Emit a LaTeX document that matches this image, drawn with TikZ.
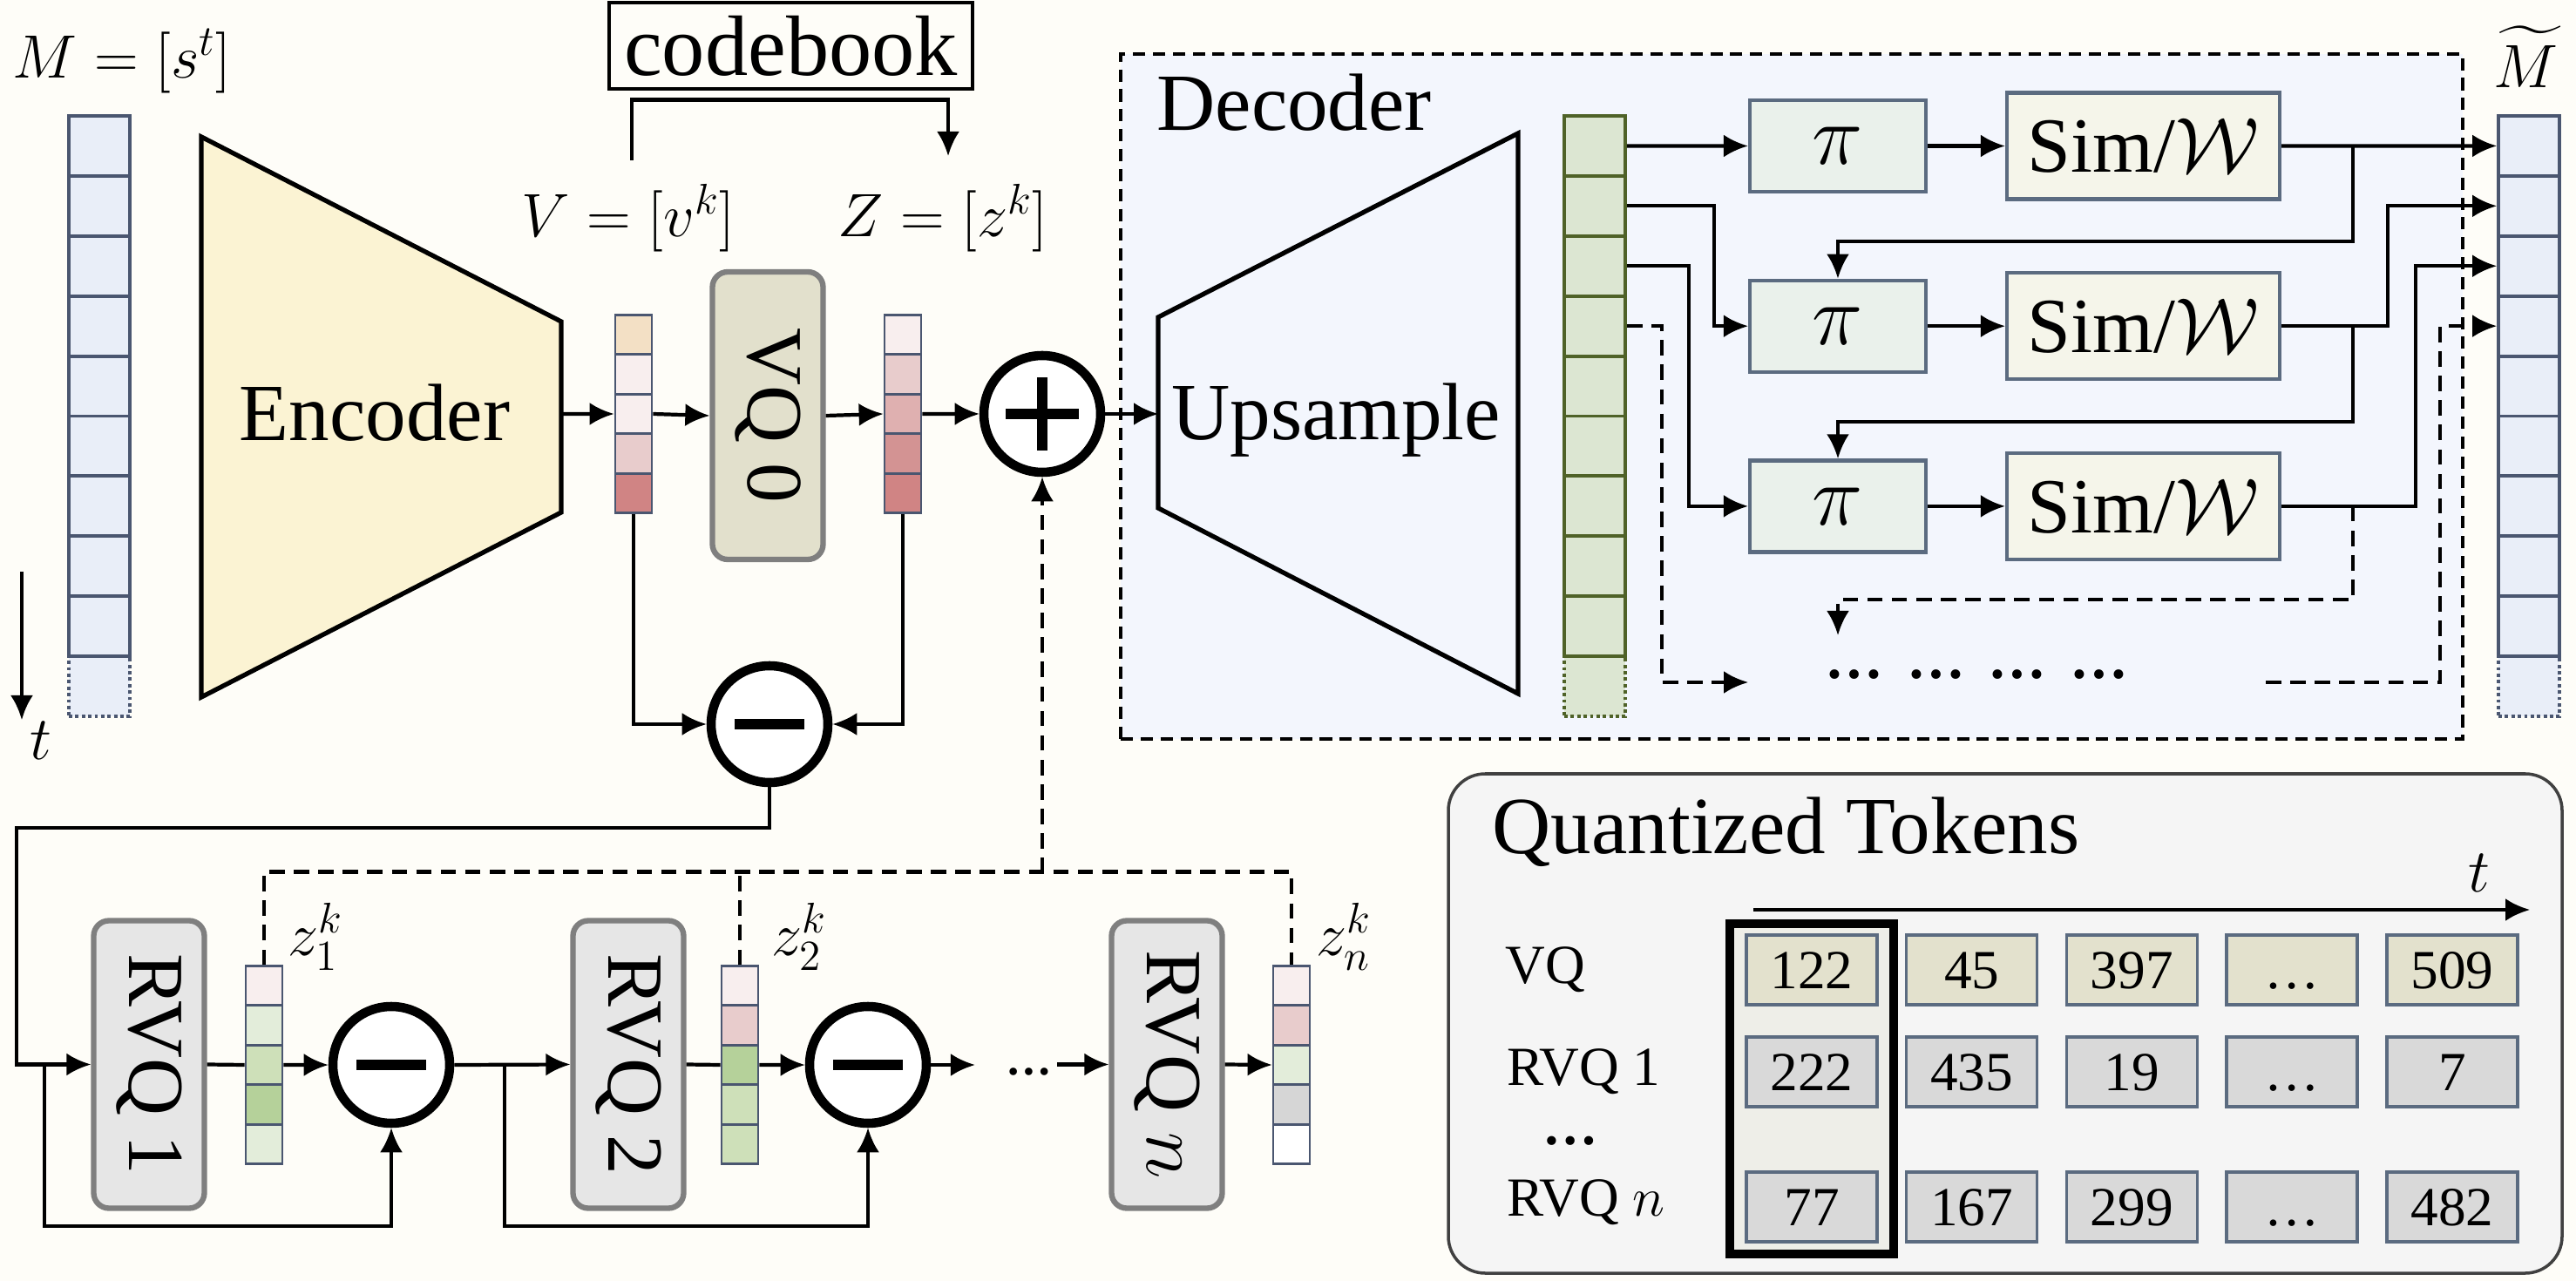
\RequirePackage{fix-cm}
\documentclass[tikz,border=0pt]{standalone}
\usepackage{amsmath,amssymb}
\usepackage{fontspec}
\setmainfont{Liberation Serif}
\usepackage{xcolor}
\usepackage{tikz}
\usetikzlibrary{arrows.meta,positioning,calc}

\definecolor{bgcol}{HTML}{FEFDF8}
\definecolor{seqfill}{HTML}{E9EEF8}
\definecolor{seqline}{HTML}{4A5670}
\definecolor{upfill}{HTML}{DCE6D2}
\definecolor{upline}{HTML}{4F6228}
\definecolor{encfill}{HTML}{FBF3D3}
\definecolor{decfill}{HTML}{F3F6FD}
\definecolor{vqfill}{HTML}{E2E0CC}
\definecolor{rvqfill}{HTML}{E6E6E6}
\definecolor{boxline}{HTML}{7F7F7F}
\definecolor{pifill}{HTML}{EAF1EB}
\definecolor{simfill}{HTML}{F5F5EA}
\definecolor{cellline}{HTML}{5B6B80}
\definecolor{panelfill}{HTML}{F5F5F5}
\definecolor{colfill}{HTML}{EEEEE8}
\definecolor{tokvq}{HTML}{E3E1CD}
\definecolor{tokrvq}{HTML}{D9D9D9}
% vector entries
\definecolor{peach}{HTML}{F3E0C5}
\definecolor{rosea}{HTML}{F8EEEE}
\definecolor{roseb}{HTML}{E8CCCC}
\definecolor{rosec}{HTML}{DFB0B0}
\definecolor{rosed}{HTML}{D39393}
\definecolor{rosee}{HTML}{D08484}
\definecolor{greena}{HTML}{E3EDDA}
\definecolor{greenb}{HTML}{CEE0B9}
\definecolor{greenc}{HTML}{B5D19A}
\definecolor{greyc}{HTML}{D6D6D6}

\tikzset{
  conn/.style={line width=1.2pt},
  arr/.style={conn, -{Latex[length=2.8mm,width=2.6mm]}},
  dconn/.style={conn, dash pattern=on 5pt off 3pt},
  darr/.style={arr, dash pattern=on 5pt off 3pt},
  seqcell/.style={draw=seqline, line width=1.1pt, fill=seqfill, minimum width=0.70cm, minimum height=0.689cm, inner sep=0pt},
  ghost/.style={densely dotted},
  vcell/.style={draw=seqline, line width=0.8pt, minimum width=0.42cm, minimum height=0.454cm, inner sep=0pt},
  quant/.style={draw=boxline, line width=1.8pt, rounded corners=5pt, minimum width=1.27cm, minimum height=3.30cm, inner sep=0pt, font=\fontsize{26}{30}\selectfont},
  op/.style={circle, draw, line width=3pt, fill=white, minimum size=1.34cm, inner sep=0pt},
  opminus/.style={op, path picture={\draw[line width=3.4pt] ([xshift=-0.40cm]path picture bounding box.center) -- ([xshift=0.40cm]path picture bounding box.center);}},
  opplus/.style={op, path picture={\draw[line width=3.4pt] ([xshift=-0.42cm]path picture bounding box.center) -- ([xshift=0.42cm]path picture bounding box.center);
      \draw[line width=3.4pt] ([yshift=-0.42cm]path picture bounding box.center) -- ([yshift=0.42cm]path picture bounding box.center);}},
  pibox/.style={draw=cellline, fill=pifill, line width=1.2pt, minimum width=2.02cm, minimum height=1.05cm, font=\fontsize{28}{32}\selectfont},
  simbox/.style={draw=cellline, fill=simfill, line width=1.2pt, minimum width=3.13cm, minimum height=1.22cm, font=\fontsize{25.5}{30}\selectfont},
  tok/.style={draw=cellline, line width=1pt, minimum width=1.5cm, minimum height=0.8cm, text height=12pt, text depth=0pt, inner sep=0pt, font=\fontsize{18}{21}\selectfont},
  big/.style={font=\fontsize{26.5}{31}\selectfont},
  lab/.style={font=\fontsize{20}{24}\selectfont},
  rowlab/.style={anchor=west, font=\fontsize{18}{21}\selectfont},
}

\begin{document}
\begin{tikzpicture}

    \fill[bgcol] (0,0) rectangle (29.56,-14.70);
    \useasboundingbox (0,0) rectangle (29.56,-14.70);

    % input sequence
    \node[seqcell, ghost] (s10) at (1.14,{-1.33-0.689*9.5}) {};
    \foreach \i in {1,...,9}
      \node[seqcell] (s\i) at (1.14,{-1.33-0.689*(\i-0.5)}) {};
    \node[lab] (mlab) at (1.40,-0.70) {$M=[s^t]$};
    \coordinate (t0) at (0.25,-6.56);
    \coordinate (t1) at (0.25,-8.26);
    \draw[arr] (t0) -- (t1);
    \node[lab] (tlab) at (0.47,-8.50) {$t$};

    % encoder
    \draw[line width=1.5pt, fill=encfill] (2.31,-1.57) -- (6.44,-3.69) -- (6.44,-5.88) -- (2.31,-8.00) -- cycle;
    \node[big] (enc) at (4.30,-4.74) {Encoder};
    \coordinate (encout) at (6.44,-4.75);

    % first stage quantizer
    \foreach \c [count=\i] in {peach,rosea,rosea,roseb,rosee}
      \node[vcell, fill=\c] (v\i) at (7.27,{-3.615-0.454*(\i-0.5)}) {};
    \node[quant, fill=vqfill] (vq0) at (8.81,-4.77) {\rotatebox{-90}{VQ 0}};
    \foreach \c [count=\i] in {rosea,roseb,rosec,rosed,rosee}
      \node[vcell, fill=\c] (z\i) at (10.36,{-3.615-0.454*(\i-0.5)}) {};
    \node[lab] (vlab) at (7.21,-2.50) {$V=[v^k]$};
    \node[lab] (zlab) at (10.82,-2.50) {$Z=[z^k]$};

    \node[draw, line width=1.4pt, minimum width=4.17cm, minimum height=0.99cm, inner sep=0pt, font=\fontsize{28}{32}\selectfont] (cb) at (9.075,-0.525) {codebook};
    \coordinate (cbin) at (7.25,-1.84);
    \coordinate (cbout) at (10.88,-1.79);
    \draw[arr] (cbin) |- ([yshift=-0.10cm]cb.south) -| (cbout);

    \node[opplus] (plus) at (11.96,-4.75) {};
    \node[opminus] (sub0) at (8.83,-8.31) {};

    \draw[arr] (encout) -- (v3.west);
    \draw[arr] (v3.east) -- (vq0.west);
    \draw[arr] (vq0.east) -- (z3.west);
    \draw[arr] (z3.east) -- (plus.west);
    \draw[arr] (v5.south) |- (sub0.west);
    \draw[arr] (z5.south) |- (sub0.east);

    % residual stages
    \node[quant, fill=rvqfill] (rvq1) at (1.71,-12.215) {\rotatebox{-90}{RVQ 1}};
    \node[quant, fill=rvqfill] (rvq2) at (7.21,-12.215) {\rotatebox{-90}{RVQ 2}};
    \node[quant, fill=rvqfill] (rvqn) at (13.39,-12.215) {\rotatebox{-90}{RVQ $n$}};
    \foreach \c [count=\i] in {rosea,greena,greenb,greenc,greena}
      \node[vcell, fill=\c] (ra\i) at (3.03,{-11.085-0.454*(\i-0.5)}) {};
    \foreach \c [count=\i] in {rosea,roseb,greenc,greenb,greenb}
      \node[vcell, fill=\c] (rb\i) at (8.49,{-11.085-0.454*(\i-0.5)}) {};
    \foreach \c [count=\i] in {rosea,roseb,greena,greyc,white}
      \node[vcell, fill=\c] (rn\i) at (14.82,{-11.085-0.454*(\i-0.5)}) {};
    \node[lab] (zalab) at (3.62,-10.75) {$z_1^k$};
    \node[lab] (zblab) at (9.17,-10.75) {$z_2^k$};
    \node[lab] (znlab) at (15.42,-10.75) {$z_n^k$};
    \node[opminus] (sub1) at (4.49,-12.22) {};
    \node[opminus] (sub2) at (9.96,-12.22) {};
    \node[inner sep=0.05cm, font=\bfseries\fontsize{15}{17}\selectfont] (rdots) at (11.81,-12.30) {\dots};

    \coordinate (res) at (0.19,-9.50);
    \draw[arr] (sub0.south) |- (res) |- (rvq1.west);
    \draw[conn] (rvq1.east) -- (ra3.west);
    \draw[arr] (ra3.east) -- (sub1.west);
    \draw[arr] (sub1.east) -- (rvq2.west);
    \draw[conn] (rvq2.east) -- (rb3.west);
    \draw[arr] (rb3.east) -- (sub2.west);
    \draw[arr, shorten >=0.30cm] (sub2.east) -- (sub2.east -| rdots.west);
    \draw[arr] (rdots.east |- rvqn.west) -- (rvqn.west);
    \draw[arr] (rvqn.east) -- (rn3.west);

    \coordinate (fb1) at (0.51,-12.22);
    \coordinate (fb2) at (5.79,-12.22);
    \draw[arr] (fb1) -- ++(0,-1.85) -| (sub1.south);
    \draw[arr] (fb2) -- ++(0,-1.85) -| (sub2.south);

    % summed codes back to the adder
    \draw[dconn] (ra1.north) -- ++(0,1.065) -| (rn1.north);
    \draw[dconn] (rb1.north) -- ++(0,1.065);
    \coordinate (tap) at (11.96,-10.02);
    \draw[darr] (tap) -- (plus.south);

    % decoder
    \node[draw, dash pattern=on 4pt off 2.5pt, fill=decfill, line width=1pt, minimum width=15.40cm, minimum height=7.86cm] (dec) at (20.56,-4.55) {};
    \node[big, anchor=west] (declab) at (13.15,-1.18) {Decoder};
    \draw[line width=1.5pt, fill=decfill] (13.29,-3.64) -- (17.42,-1.53) -- (17.42,-7.96) -- (13.29,-5.83) -- cycle;
    \node[big] (ups) at (15.33,-4.82) {Upsample};
    \coordinate (upin) at (13.29,-4.75);
    \draw[arr] (plus.east) -- (upin);

    \node[seqcell, ghost, fill=upfill, draw=upline] (g10) at (18.30,{-1.33-0.689*9.5}) {};
    \foreach \i in {1,...,9}
      \node[seqcell, fill=upfill, draw=upline] (g\i) at (18.30,{-1.33-0.689*(\i-0.5)}) {};

    \node[pibox] (pi1) at (21.09,-1.675) {$\pi$};
    \node[pibox] (pi2) at (21.09,-3.742) {$\pi$};
    \node[pibox] (pi3) at (21.09,-5.809) {$\pi$};
    \node[simbox] (sim1) at (24.595,-1.675) {Sim/$\mathcal{W}$};
    \node[simbox] (sim2) at (24.595,-3.742) {Sim/$\mathcal{W}$};
    \node[simbox] (sim3) at (24.595,-5.809) {Sim/$\mathcal{W}$};
    \node[inner sep=0pt, font=\bfseries\fontsize{19}{22}\selectfont] (ddots) at (22.685,-7.74) {\dots\hspace{0.4em}\dots\hspace{0.4em}\dots\hspace{0.4em}\dots};

    % output sequence
    \node[seqcell, ghost] (o10) at (29.02,{-1.33-0.689*9.5}) {};
    \foreach \i in {1,...,9}
      \node[seqcell] (o\i) at (29.02,{-1.33-0.689*(\i-0.5)}) {};
    \node[lab] (olab) at (28.98,-0.65) {$\widetilde{M}$};

    \foreach \i in {1,2,3}
      \draw[arr] (pi\i.east) -- (sim\i.west);
    \draw[arr] (g1.east) -- (pi1.west);
    \draw[arr] (g2.east) -- ++(1.00,0) |- (pi2.west);
    \draw[arr] (g3.east) -- ++(0.71,0) |- (pi3.west);
    \coordinate (dfrom) at (20.06,-7.83);
    \draw[darr] (g4.east) -- ++(0.40,0) |- (dfrom);

    \draw[arr] (sim1.east) -- (o1.west);
    \draw[arr] (sim2.east) -- ++(1.22,0) |- (o2.west);
    \draw[arr] (sim3.east) -- ++(1.54,0) |- (o3.west);
    \coordinate (br1) at (27.00,-1.675);
    \coordinate (br2) at (27.00,-3.742);
    \coordinate (br3) at (27.00,-5.809);
    \coordinate (pinext) at (21.09,-7.29);
    \draw[arr] (br1) -- ++(0,-1.095) -| (pi2.north);
    \draw[arr] (br2) -- ++(0,-1.10) -| (pi3.north);
    \draw[darr] (br3) -- ++(0,-1.07) -| (pinext);
    \coordinate (dback) at (26.00,-7.83);
    \draw[darr] (dback) -- ++(2.00,0) |- (o4.west);

    % token table
    \node[draw=black!75, fill=panelfill, line width=1pt, rounded corners=12pt, minimum width=12.78cm, minimum height=5.73cm] (qt) at (23.01,-11.745) {};
    \node[big, anchor=west] (qtlab) at (17.00,-9.55) {Quantized Tokens};
    \coordinate (ta) at (20.12,-10.44);
    \coordinate (tb) at (29.03,-10.44);
    \draw[arr] (ta) -- (tb);
    \node[lab] (tqlab) at (28.45,-10.02) {$t$};
    \node[draw, line width=3pt, fill=colfill, minimum width=1.88cm, minimum height=3.79cm] (hl) at (20.79,-12.495) {};

    \foreach \v [count=\j] in {122,45,397,\dots,509}
      \node[tok, fill=tokvq] (ta\j) at ({20.79+1.837*(\j-1)},-11.13) {\v};
    \foreach \v [count=\j] in {222,435,19,\dots,7}
      \node[tok, fill=tokrvq] (tb\j) at ({20.79+1.837*(\j-1)},-12.30) {\v};
    \foreach \v [count=\j] in {77,167,299,\dots,482}
      \node[tok, fill=tokrvq] (tn\j) at ({20.79+1.837*(\j-1)},-13.85) {\v};

    \node[rowlab] (lvq) at (17.15,-11.13) {VQ};
    \node[rowlab] (lra) at (17.17,-12.30) {RVQ 1};
    \node[font=\bfseries\fontsize{18}{21}\selectfont] (ldots) at (18.02,-13.09) {\dots};
    \node[rowlab] (lrn) at (17.17,-13.80) {RVQ $n$};

\end{tikzpicture}
\end{document}
